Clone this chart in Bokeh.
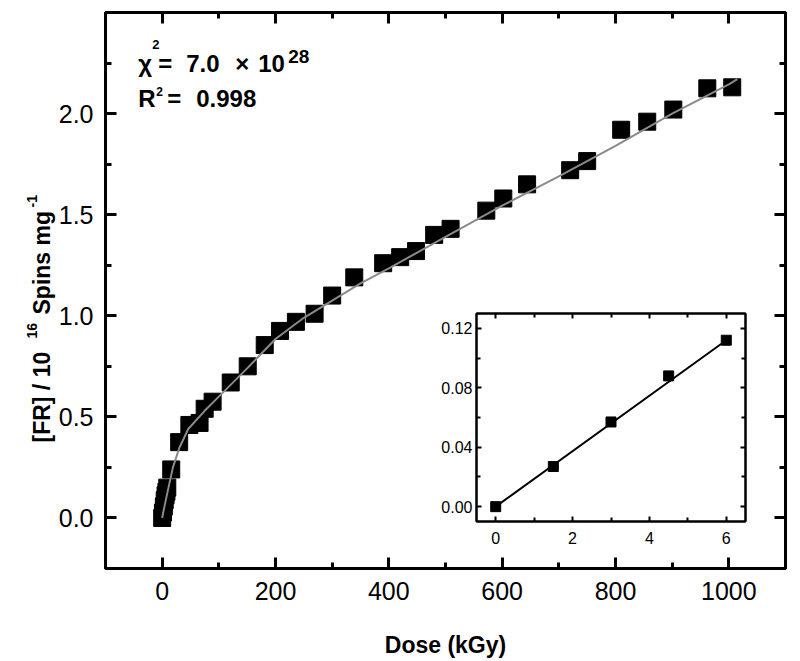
import math
from bokeh.plotting import figure
from bokeh.models import (FixedTicker, NumeralTickFormatter, LinearAxis,
                          Label, Range1d, CustomJSTickFormatter)
from bokeh.layouts import column
from bokeh.embed import file_html
from bokeh.resources import INLINE

# ---- main data ----
dose = [0, 1.5, 3, 4.5, 6, 7.5, 9, 16, 30, 48, 66, 75, 89, 121, 151, 181, 208, 236,
        269, 300, 339, 390, 420, 448, 480, 509, 572, 602, 644, 720, 750, 810, 856,
        902, 962, 1006]
fr = [0, 0.027, 0.057, 0.088, 0.112, 0.13, 0.15, 0.24, 0.375, 0.46, 0.47, 0.54, 0.575,
      0.67, 0.75, 0.855, 0.925, 0.97, 1.01, 1.10, 1.19, 1.26, 1.29, 1.32, 1.40, 1.43,
      1.52, 1.58, 1.65, 1.72, 1.765, 1.92, 1.96, 2.02, 2.125, 2.13]

# fit curve
fit_dose = [0, 3.5, 10, 19, 30, 46, 75, 100, 150, 200, 250, 300, 350, 400, 500, 600,
            700, 800, 900, 1000, 1015]
fit_fr = [0, 0.05, 0.135, 0.25, 0.345, 0.44, 0.53, 0.60, 0.74, 0.885, 0.99, 1.075,
          1.16, 1.235, 1.39, 1.545, 1.69, 1.84, 2.0, 2.145, 2.17]

x_ticks = [0, 200, 400, 600, 800, 1000]
x_minor = [-100, 100, 300, 500, 700, 900, 1100]
y_ticks = [0.0, 0.5, 1.0, 1.5, 2.0]
y_minor = [-0.25, 0.25, 0.75, 1.25, 1.75, 2.25]

# ---- inset data ----
ins_dose = [0, 1.5, 3, 4.5, 6]
ins_fr = [0, 0.027, 0.057, 0.088, 0.112]
ins_fit_dose = [0, 6]
ins_fit_fr = [0.0, 0.112]
ins_x_ticks = [0, 2, 4, 6]
ins_x_minor = [1, 3, 5]
ins_y_ticks = [0.0, 0.04, 0.08, 0.12]
ins_y_minor = [0.02, 0.06, 0.10]

FONT = "Liberation Sans"
BLANK = CustomJSTickFormatter(code="return ''")

p = figure(width=795, height=660, output_backend="svg", toolbar_location=None,
           x_range=Range1d(-100, 1100), y_range=Range1d(-0.25, 2.5),
           min_border_left=105, min_border_right=10, min_border_top=12, min_border_bottom=91)
p.frame_align = False
p.grid.visible = False
p.outline_line_color = "black"
p.outline_line_width = 3
p.background_fill_color = "white"
p.border_fill_color = "white"

bx = p.below[0]
ly = p.left[0]
bx.ticker = FixedTicker(ticks=x_ticks, minor_ticks=x_minor)
ly.ticker = FixedTicker(ticks=y_ticks, minor_ticks=y_minor)
ly.formatter = NumeralTickFormatter(format="0.0")
bx.axis_label = "Dose (kGy)"

top = LinearAxis(ticker=FixedTicker(ticks=x_ticks, minor_ticks=x_minor), formatter=BLANK)
right = LinearAxis(ticker=FixedTicker(ticks=y_ticks, minor_ticks=y_minor), formatter=BLANK)
p.add_layout(top, "above")
p.add_layout(right, "right")

for ax in (bx, ly, top, right):
    ax.major_tick_in = 11
    ax.major_tick_out = 0
    ax.minor_tick_in = 6
    ax.minor_tick_out = 0
    ax.major_tick_line_width = 3
    ax.minor_tick_line_width = 3
    ax.axis_line_width = 3
for ax in (top, right):
    ax.major_label_standoff = 0
    ax.major_label_text_font_size = "1px"
for ax in (bx, ly):
    ax.major_label_text_font = FONT
    ax.major_label_text_font_size = "25px"
    ax.major_label_text_color = "black"
bx.axis_label_text_font = FONT
bx.axis_label_text_font_style = "bold"
bx.axis_label_text_font_size = "23px"
bx.axis_label_text_color = "black"
bx.major_label_standoff = 13
bx.axis_label_standoff = 29
ly.major_label_standoff = 12

p.scatter(dose, fr, marker="square", size=17, color="black")
p.line(fit_dose, fit_fr, line_color="#8a8a8a", line_width=2)

def lab(px, py, t, size):
    # px, py: position, converted through the axis scales
    x = (px - 161) / 0.5665
    y = (517.5 - py) / 201.5
    p.add_layout(Label(x=x, y=y, text=t, text_font=FONT, text_font_size=size,
                       text_font_style="bold", text_color="black",
                       text_baseline="alphabetic", text_align="left"))

# fit statistics
lab(137, 65, "\u03c7", "24px")
lab(151, 46, "2", "13px")
lab(157, 65, "=", "24px")
lab(185, 65, "7.0", "24px")
lab(234, 65, "\u00d7", "24px")
lab(257, 65, "10", "24px")
lab(287, 58, "28", "19px")
lab(137, 99, "R", "24px")
lab(155, 92, "2", "12px")
lab(166, 99, "=", "24px")
lab(195, 99, "0.998", "24px")

# ---- inset ----
q = figure(width=325, height=247, output_backend="svg", toolbar_location=None,
           x_range=Range1d(-0.5, 6.5), y_range=Range1d(-0.01, 0.13),
           min_border_left=51, min_border_right=5, min_border_top=5, min_border_bottom=34)
q.frame_align = False
q.margin = (-352, 0, 0, 425)
q.grid.visible = False
q.outline_line_color = "black"
q.outline_line_width = 2
q.background_fill_color = "white"
q.border_fill_alpha = 0

qb = q.below[0]
ql = q.left[0]
qb.ticker = FixedTicker(ticks=ins_x_ticks, minor_ticks=ins_x_minor)
ql.ticker = FixedTicker(ticks=ins_y_ticks, minor_ticks=ins_y_minor)
ql.formatter = NumeralTickFormatter(format="0.00")
qt = LinearAxis(ticker=FixedTicker(ticks=ins_x_ticks, minor_ticks=ins_x_minor), formatter=BLANK)
qr = LinearAxis(ticker=FixedTicker(ticks=ins_y_ticks, minor_ticks=ins_y_minor), formatter=BLANK)
q.add_layout(qt, "above")
q.add_layout(qr, "right")
for ax in (qb, ql, qt, qr):
    ax.major_tick_in = 5
    ax.major_tick_out = 0
    ax.minor_tick_in = 4
    ax.minor_tick_out = 0
    ax.major_tick_line_width = 2
    ax.minor_tick_line_width = 2
    ax.axis_line_width = 2
for ax in (qt, qr):
    ax.major_label_standoff = 0
    ax.major_label_text_font_size = "1px"
for ax in (qb, ql):
    ax.major_label_text_font = FONT
    ax.major_label_text_font_size = "16px"
    ax.major_label_text_color = "black"
qb.major_label_standoff = 10
ql.major_label_standoff = 4

q.line(ins_fit_dose, ins_fit_fr, line_color="black", line_width=2)
q.scatter(ins_dose, ins_fr, marker="square", size=10, color="black")

# ---- y-axis title panel (rotated text with real superscripts) ----
R_TOP, R_H = 170, 290
r = figure(width=70, height=R_H, output_backend="svg", toolbar_location=None,
           x_range=Range1d(0, 70), y_range=Range1d(0, R_H),
           x_axis_location=None, y_axis_location=None, min_border=0,
           min_border_left=0, min_border_right=0, min_border_top=0, min_border_bottom=0)
r.frame_align = False
r.margin = (R_TOP - (308 + 247), 0, 0, 0)
r.grid.visible = False
r.xgrid.visible = False
r.ygrid.visible = False
r.outline_line_color = None
r.background_fill_alpha = 0
r.border_fill_alpha = 0

def ylab(px, py, t, size):
    r.add_layout(Label(x=px, y=R_TOP + R_H - py, text=t, text_font=FONT,
                       text_font_size=size, text_font_style="bold", text_color="black",
                       angle=math.pi / 2, text_baseline="alphabetic", text_align="left"))

ylab(41, 442, "[FR] / 10", "23px")
ylab(31, 338, "16", "14px")
ylab(41, 314, "Spins mg", "23px")
ylab(31, 207, "-1", "14px")

layout = column(p, q, r, spacing=0)
open("out.html", "w").write(file_html(layout, INLINE))
